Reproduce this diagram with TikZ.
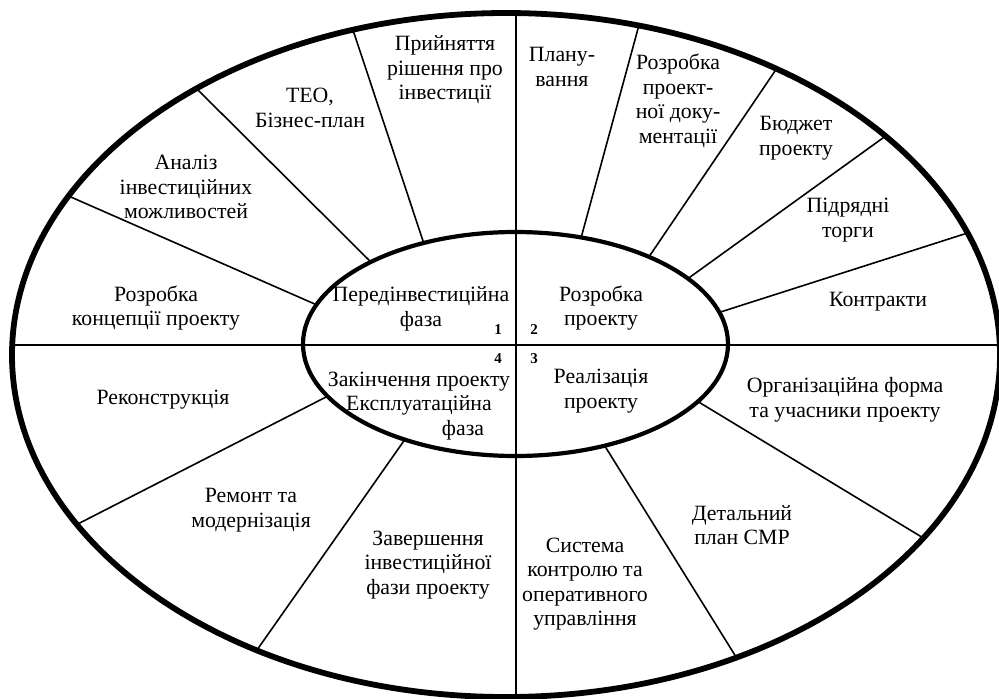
\documentclass[tikz,border=0pt]{standalone}
\usepackage{fontspec}
\setmainfont{Liberation Serif}
\begin{document}
\begin{tikzpicture}[x=1pt,y=-1pt,
  lbl/.style={font=\fontsize{21.8}{24.5}\selectfont, align=center, inner sep=0pt},
  num/.style={font=\fontsize{15}{15}\selectfont\bfseries, inner sep=0pt},
  rim/.style={line width=5.8pt},
  hub/.style={line width=4.2pt},
  spoke/.style={line width=1.6pt},
  axis/.style={line width=2pt}]
\useasboundingbox (0,0) rectangle (999,699);

% centres of the two ellipses
\coordinate (oc) at (506,355);
\coordinate (ic) at (515.5,344);

% cross lines through the centre
\coordinate (hl) at (12.2,345);
\coordinate (hr) at (1000,345);
\coordinate (vt) at (516,13.1);
\coordinate (vb) at (516,696.9);
\draw[axis] (hl) -- (hr);
\draw[axis] (vt) -- (vb);

% spokes: inner ellipse point -> outer ellipse point
\foreach \n/\ti/\to in {
  a/-159.5/-152.3, b/-132.9/-128.8, c/-115.6/-108.05,
  d/-72/-74.4, e/-51.1/-56.8, f/-35.75/-39.8, g/-16.4/-20.9,
  h/30.9/32.35, i/65.2/62.2,
  j/121.4/120.3, k/152.2/150.3}{
  \coordinate (in\n) at ([shift={(ic)}] \ti:212.5 and 112);
  \coordinate (out\n) at ([shift={(oc)}] \to:494 and 342);
  \draw[spoke] (in\n) -- (out\n);
}

% ellipses
\draw[rim] (oc) ellipse [x radius=494pt, y radius=342pt];
\draw[hub] (ic) ellipse [x radius=212.5pt, y radius=112pt];

% phase names inside the hub
\node[lbl] (p1) at (421,309) {Передінвестиційна\\фаза};
\node[lbl] (p2) at (601,308) {Розробка\\проекту};
\node[lbl] (p3) at (601,391) {Реалізація\\проекту};
\node[lbl] (p4) at (419,406) {Закінчення проекту\\Експлуатаційна\\\hspace*{88pt}фаза};

\node[num] (n1) at (498,330) {1};
\node[num] (n2) at (534,330) {2};
\node[num] (n4) at (498,359) {4};
\node[num] (n3) at (534,359) {3};

% sectors of phase 1
\node[lbl] (s1) at (156,308) {Розробка\\концепції проекту};
\node[lbl] (s2) at (186,187) {Аналіз\\інвестиційних\\можливостей};
\node[lbl] (s3) at (310,108) {ТЕО,\\Бізнес-план};
\node[lbl] (s4) at (445,70) {Прийняття\\рішення про\\інвестиції};

% sectors of phase 2
\node[lbl] (s5) at (562,67) {Плану-\\вання};
\node[lbl] (s6) at (678,101) {Розробка\\проект-\\ної доку-\\ментації};
\node[lbl] (s7) at (796,138) {Бюджет\\проекту};
\node[lbl] (s8) at (848,220) {Підрядні\\торги};
\node[lbl] (s9) at (878,302) {Контракти};

% sectors of phase 3
\node[lbl] (s10) at (845,400) {Організаційна форма\\та учасники проекту};
\node[lbl] (s11) at (742,525) {Детальний\\план СМР};
\node[lbl] (s12) at (585,584) {Система\\контролю та\\оперативного\\управління};

% sectors of phase 4
\node[lbl] (s13) at (428,565) {Завершення\\інвестиційної\\фази проекту};
\node[lbl] (s14) at (251,510) {Ремонт та\\модернізація};
\node[lbl] (s15) at (163,400) {Реконструкція};
\end{tikzpicture}
\end{document}
